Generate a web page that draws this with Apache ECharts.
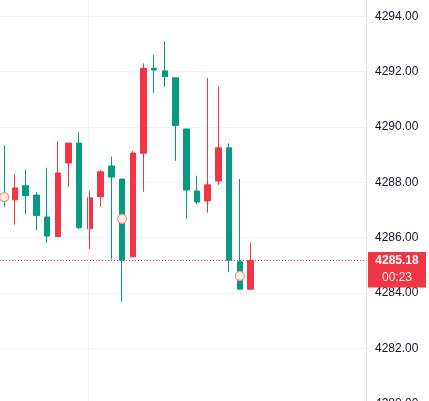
<!DOCTYPE html>
<html>
<head>
<meta charset="utf-8">
<style>
html,body{margin:0;padding:0;background:#ffffff;}
#chart{width:429px;height:401px;}
</style>
<script src="https://cdn.jsdelivr.net/npm/echarts@6/dist/echarts.min.js"></script>
</head>
<body>
<div id="chart"></div>
<script>
// ---- data ----
var opens  = [4287.58,4287.37,4287.88,4287.54,4286.75,4286.04,4288.70,4289.42,4286.32,4287.48,4288.59,4288.12,
              4285.31,4289.05,4292.12,4292.03,4291.78,4289.93,4287.69,4287.33,4288.05,4289.25,4285.13,4284.14];
var closes = [4287.37,4287.80,4287.52,4286.80,4286.06,4288.34,4289.42,4286.36,4287.44,4288.38,4288.19,4285.19,
              4289.06,4292.12,4292.06,4291.82,4290.05,4287.72,4287.29,4287.91,4289.25,4285.19,4284.14,4285.18];
var lows   = [4287.12,4286.47,4286.84,4286.28,4285.81,4286.04,4287.83,4286.31,4285.59,4287.12,4285.23,4283.69,
              4285.31,4287.66,4291.24,4291.44,4288.78,4286.69,4287.22,4286.90,4287.91,4284.75,4284.14,4284.14];
var highs  = [4289.35,4288.30,4288.47,4287.65,4288.53,4289.50,4289.42,4289.82,4287.69,4288.45,4288.93,4288.12,
              4289.13,4292.30,4292.60,4293.11,4291.78,4289.93,4288.24,4291.78,4291.46,4289.41,4288.12,4285.82];
var markerIndex  = [0, 11, 22];
var markerValues = [4287.47, 4286.68, 4284.62];
var lastPrice = 4285.18;
var countdown = "00:23";
var yTicks = [4280, 4282, 4284, 4286, 4288, 4290, 4292, 4294, 4296];

var UP = '#F23645', DOWN = '#089981';

var candleData = opens.map(function (o, i) { return [i, o, closes[i], lows[i], highs[i]]; });
var markerData = markerIndex.map(function (idx, i) { return [idx, markerValues[i]]; });

var chart = echarts.init(document.getElementById('chart'), null, {renderer: 'canvas'});
var font = '"Liberation Sans", Arial, sans-serif';
chart.setOption({
  animation: false,
  backgroundColor: '#ffffff',
  grid: {left: 0, right: 62.5, top: -39, bottom: -2.74, containLabel: false, outerBoundsMode: 'none'},
  xAxis: {
    type: 'value', min: -0.4, max: 33.83,
    axisLine: {show: false, onZero: false}, axisTick: {show: false}, axisLabel: {show: false}, splitLine: {show: false}
  },
  yAxis: {
    type: 'value', position: 'right',
    min: yTicks[0], max: yTicks[yTicks.length - 1], interval: 2,
    axisLine: {show: true, onZero: false, lineStyle: {color: '#e0e3eb', width: 1}},
    axisTick: {show: false},
    axisLabel: {color: '#131722', fontSize: 12, fontFamily: font, margin: 8.5,
      formatter: function (v) { return v.toFixed(2); }},
    splitLine: {show: true, lineStyle: {color: '#f0f3fa', width: 1}}
  },
  series: [
    {
      type: 'line', data: [], silent: true,
      markLine: {
        silent: true, symbol: 'none', animation: false,
        data: [{xAxis: 7.85}],
        lineStyle: {color: '#f0f3fa', type: 'solid', width: 1},
        label: {show: false}
      },
      z: 1
    },
    {
      type: 'candlestick',
      data: candleData,
      barWidth: 6,
      itemStyle: {color: UP, color0: DOWN, borderColor: UP, borderColor0: DOWN, borderWidth: 1},
      z: 3
    },
    {
      type: 'line', data: [], silent: true, itemStyle: {color: UP},
      markLine: {
        silent: true, symbol: 'none', animation: false,
        data: [{yAxis: lastPrice, lineStyle: {color: UP, type: [1, 2], width: 1}}],
        lineStyle: {color: UP, type: [1, 2], width: 1},
        label: {show: false}
      },
      z: 4
    },
    {
      type: 'scatter', data: markerData, symbol: 'circle', symbolSize: 9,
      itemStyle: {color: '#fcefeb', borderColor: '#f29a84', borderWidth: 1.3, opacity: 1},
      z: 5
    }
  ]
});

var py = chart.convertToPixel({yAxisIndex: 0}, lastPrice);
chart.setOption({
  graphic: [
    {type: 'rect', shape: {x: 368, y: py - 8.3, width: 58, height: 35.4}, style: {fill: UP}, z: 100},
    {type: 'text', x: 397, y: py, style: {text: lastPrice.toFixed(2), fill: '#ffffff', font: 'bold 12px ' + font,
      textAlign: 'center', textVerticalAlign: 'middle'}, z: 101},
    {type: 'text', x: 397, y: py + 17.5, style: {text: countdown, fill: 'rgba(255,255,255,0.92)', font: '12px ' + font,
      textAlign: 'center', textVerticalAlign: 'middle'}, z: 101}
  ]
});
</script>
</body>
</html>
